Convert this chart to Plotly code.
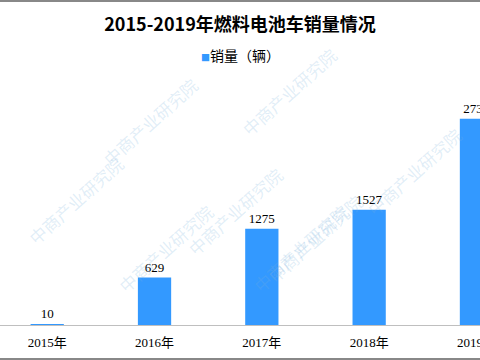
import plotly.graph_objects as go

years = ["2015年", "2016年", "2017年", "2018年", "2019年"]
sales = [10, 629, 1275, 1527, 2737]
series_name = "销量（辆）"
title_text = "2015-2019年燃料电池车销量情况"
watermark = "中商产业研究院"
bar_color = "#3399ff"

fig = go.Figure()
fig.add_trace(go.Bar(
    x=years, y=sales, name=series_name,
    marker=dict(color=bar_color, line=dict(width=0)),
    width=0.31,
    text=[str(v) for v in sales], textposition="outside",
    textfont=dict(family="Liberation Serif, DejaVu Serif", size=13, color="#000000"),
    cliponaxis=True,
    showlegend=False,
))

T, B = 85, 35
H = 360 - T - B

def py(pix):
    return 1 - (pix - T) / H

# watermarks
wm_pos = [(95, 70), (345, 40), (235, 160), (470, 120), (110, 300), (370, 290), (20, 200), (300, 300)]
annos = []
for (x, y) in wm_pos:
    annos.append(dict(text=watermark, x=x / 480, y=py(y), xref="paper", yref="paper",
                      showarrow=False, textangle=-42,
                      font=dict(family="Noto Sans CJK SC", size=17, color="rgba(120,175,220,0.22)")))

annos.append(dict(text="<span style='color:%s;font-size:9px'>■</span>%s" % (bar_color, series_name),
                  x=0.5, y=py(55), xref="paper", yref="paper", showarrow=False,
                  xanchor="center", yanchor="middle",
                  font=dict(family="Noto Sans CJK SC", size=14, color="#000000")))

fig.update_layout(
    width=480, height=360,
    margin=dict(l=0, r=0, t=T, b=B, autoexpand=False),
    paper_bgcolor="white", plot_bgcolor="white",
    title=dict(text=title_text, x=0.5, xanchor="center", y=1 - 25 / 360, yanchor="middle",
               font=dict(family="Noto Sans CJK SC", size=18, color="#000000", weight="bold")),
    xaxis=dict(range=[-0.44, 4.033], showline=True, linecolor="#bfbfbf", linewidth=1,
               ticks="", showgrid=False, automargin=False, ticklabelstandoff=5,
               tickfont=dict(family="Liberation Serif, Noto Sans CJK SC", size=13, color="#000000")),
    yaxis=dict(range=[0, H / 0.0754], visible=False, showgrid=False, automargin=False),
    annotations=annos,
    shapes=[
        dict(type="line", xref="paper", yref="paper", x0=0, x1=1, y0=py(1), y1=py(1),
             line=dict(color="#888888", width=2)),
        dict(type="line", xref="paper", yref="paper", x0=0, x1=1, y0=py(359), y1=py(359),
             line=dict(color="#888888", width=2)),
    ],
)

fig.write_html("out.html", config={"displayModeBar": False},
               post_script="document.body.style.margin='0';document.body.style.overflow='hidden';")
